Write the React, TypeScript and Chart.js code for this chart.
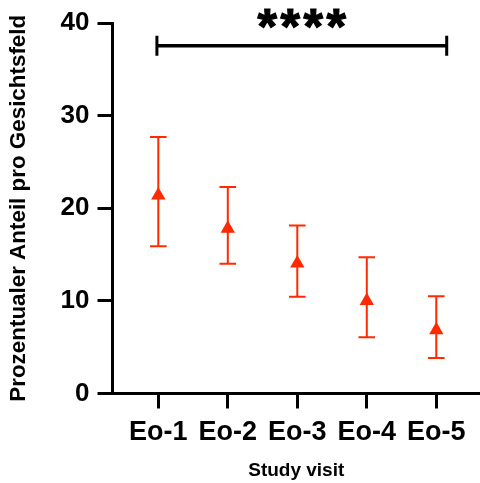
import React, { useEffect, useRef } from "react";
import { Chart, registerables } from "chart.js";

Chart.register(...registerables);

const categories = ["Eo-1", "Eo-2", "Eo-3", "Eo-4", "Eo-5"];
const positions = [1, 2, 3, 4, 5];
const means = [21.4, 17.8, 14.05, 10.0, 6.85];
const upper = [27.7, 22.3, 18.15, 14.7, 10.5];
const lower = [15.9, 14.0, 10.45, 6.07, 3.83];
const yTicks = [0, 10, 20, 30, 40];
const bracketFrom = 0.98;
const bracketTo = 5.15;
const bracketY = 37.55;
const bracketLabel = "****";

const FONT = "'Liberation Sans', Arial, sans-serif";
const RED = "#ff2a00";

const overlayPlugin = {
  id: "overlay",
  beforeDatasetsDraw(chart: any) {
    const ctx = chart.ctx;
    const xs = chart.scales.x;
    const ys = chart.scales.y;
    ctx.save();
    ctx.strokeStyle = RED;
    ctx.lineWidth = 2;
    positions.forEach((p, i) => {
      const x = xs.getPixelForValue(p);
      const yt = ys.getPixelForValue(upper[i]);
      const yb = ys.getPixelForValue(lower[i]);
      ctx.beginPath();
      ctx.moveTo(x, yt);
      ctx.lineTo(x, yb);
      ctx.moveTo(x - 8.3, yt);
      ctx.lineTo(x + 8.3, yt);
      ctx.moveTo(x - 8.3, yb);
      ctx.lineTo(x + 8.3, yb);
      ctx.stroke();
    });
    ctx.restore();
  },
  afterDraw(chart: any) {
    const ctx = chart.ctx;
    const xs = chart.scales.x;
    const ys = chart.scales.y;
    const x1 = xs.getPixelForValue(bracketFrom);
    const x2 = xs.getPixelForValue(bracketTo);
    const y = ys.getPixelForValue(bracketY);
    ctx.save();
    ctx.strokeStyle = "#000";
    ctx.lineWidth = 3.5;
    ctx.beginPath();
    ctx.moveTo(x1, y);
    ctx.lineTo(x2, y);
    ctx.stroke();
    ctx.lineWidth = 3;
    ctx.beginPath();
    ctx.moveTo(x1, y - 10);
    ctx.lineTo(x1, y + 10);
    ctx.moveTo(x2, y - 10);
    ctx.lineTo(x2, y + 10);
    ctx.stroke();
    // asterisks
    ctx.fillStyle = "#000";
    ctx.strokeStyle = "#000";
    ctx.font = `bold 100px ${FONT}`;
    const m = ctx.measureText("*");
    const h100 = m.actualBoundingBoxAscent + m.actualBoundingBoxDescent;
    const size = (100 * 19) / h100;
    ctx.font = `bold ${size}px ${FONT}`;
    const mm = ctx.measureText("*");
    const asc = mm.actualBoundingBoxAscent;
    const desc = mm.actualBoundingBoxDescent;
    const cx = (x1 + x2) / 2;
    const cy = y - 27.5;
    const spacing = 23;
    const n = bracketLabel.length;
    ctx.textAlign = "center";
    ctx.textBaseline = "alphabetic";
    ctx.lineWidth = 1.2;
    for (let i = 0; i < n; i++) {
      const px = cx + (i - (n - 1) / 2) * spacing;
      ctx.fillText(bracketLabel[i], px, cy + (asc - desc) / 2);
      ctx.strokeText(bracketLabel[i], px, cy + (asc - desc) / 2);
    }
    ctx.restore();
  },
};

export default function App() {
  const ref = useRef<HTMLCanvasElement>(null);
  useEffect(() => {
    if (!ref.current) return;
    const chart = new Chart(ref.current, {
      type: "scatter",
      data: {
        datasets: [
          {
            data: positions.map((p, i) => ({ x: p, y: means[i] })),
            pointStyle: "triangle",
            pointRadius: 8.3,
            pointHoverRadius: 8.3,
            backgroundColor: RED,
            borderColor: RED,
            borderWidth: 0,
            showLine: false,
          },
        ],
      },
      options: {
        responsive: false,
        animation: false,
        events: [],
        layout: { autoPadding: false, padding: { top: 23, right: 0, left: 0, bottom: 0 } },
        plugins: {
          legend: { display: false },
          tooltip: { enabled: false },
        },
        scales: {
          x: {
            type: "linear",
            min: 0.341,
            max: 5.629,
            afterBuildTicks: (scale: any) => {
              scale.ticks = positions.map((v) => ({ value: v }));
            },
            afterFit: (scale: any) => {
              scale.height = 89.5;
              scale.paddingLeft = 0;
              scale.paddingRight = 0;
            },
            ticks: {
              autoSkip: false,
              maxRotation: 0,
              color: "#000",
              padding: 8,
              font: { family: FONT, size: 27, weight: "bold" },
              callback: (v: any) => categories[positions.indexOf(v)] ?? "",
            },
            grid: {
              drawOnChartArea: false,
              drawTicks: true,
              tickLength: 15,
              tickWidth: 3,
              tickColor: "#000",
            },
            border: { display: true, color: "#000", width: 3 },
            title: {
              display: true,
              text: "Study visit",
              color: "#000",
              font: { family: FONT, size: 19, weight: "bold" },
              padding: { top: 0, bottom: 1 },
            },
          },
          y: {
            type: "linear",
            min: 0,
            max: 40,
            afterBuildTicks: (scale: any) => {
              scale.ticks = yTicks.map((v) => ({ value: v }));
            },
            afterFit: (scale: any) => {
              scale.width = 112.5;
              scale.paddingTop = 0;
              scale.paddingBottom = 0;
            },
            ticks: {
              color: "#000",
              padding: 8,
              font: { family: FONT, size: 26, weight: "bold" },
            },
            grid: {
              drawOnChartArea: false,
              drawTicks: true,
              tickLength: 15,
              tickWidth: 3,
              tickColor: "#000",
            },
            border: { display: true, color: "#000", width: 3 },
            title: {
              display: true,
              text: "Prozentualer Anteil pro Gesichtsfeld",
              color: "#000",
              font: { family: FONT, size: 22.4, weight: "bold" },
              padding: { top: 5, bottom: 0 },
            },
          },
        },
      },
      plugins: [overlayPlugin],
    } as any);
    return () => chart.destroy();
  }, []);
  return (
    <div style={{ position: "absolute", left: 0, top: 0, width: 480, height: 483, background: "#fff" }}>
      <canvas ref={ref} width={480} height={483} style={{ display: "block" }} />
    </div>
  );
}
